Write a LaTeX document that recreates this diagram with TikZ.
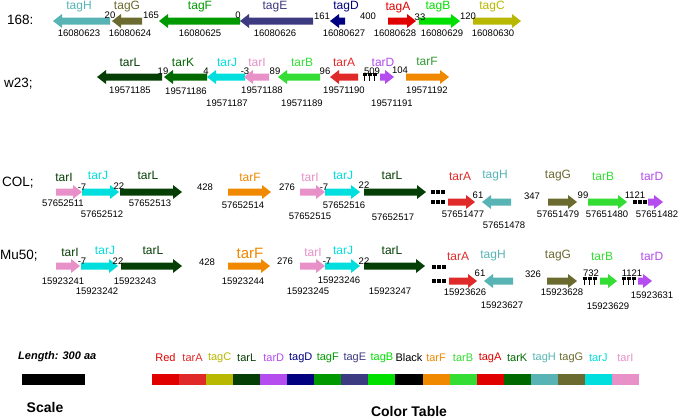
\documentclass[tikz,border=0pt]{standalone}
\usepackage{fontspec}
\setmainfont{Liberation Sans}
\usetikzlibrary{positioning}

\definecolor{redc}{HTML}{E00000}
\definecolor{tagA}{HTML}{E00000}
\definecolor{tagB}{HTML}{00E000}
\definecolor{tagC}{HTML}{B8B800}
\definecolor{tagD}{HTML}{000080}
\definecolor{tagE}{HTML}{3C3A80}
\definecolor{tagF}{HTML}{009A00}
\definecolor{tagG}{HTML}{6B6B30}
\definecolor{tagH}{HTML}{58B4B4}
\definecolor{tarA}{HTML}{E02A2A}
\definecolor{tarB}{HTML}{33DD33}
\definecolor{tarD}{HTML}{B44CF0}
\definecolor{tarF}{HTML}{F08800}
\definecolor{tarI}{HTML}{E890C8}
\definecolor{tarJ}{HTML}{00DEDE}
\definecolor{tarK}{HTML}{006A00}
\definecolor{tarL}{HTML}{063F06}
\definecolor{tarFg}{HTML}{339933}

% gene arrow: tail x, tip x, y, colour, name, name pos, number, number pos
\newcommand{\gene}[8]{%
  \pgfmathsetmacro\hx{#2-((#2>#1)?9:-9)}
  \fill[#4] ({#1},{#3-3.5}) -- (\hx,{#3-3.5}) -- (\hx,{#3-7}) -- ({#2},{#3})
    -- (\hx,{#3+7}) -- (\hx,{#3+3.5}) -- ({#1},{#3+3.5}) -- cycle;
  \node[gname, text=#4] (lbl-#7) at (#6) {#5};
  \node[gnum] (num-#7) at (#8) {#7};}
% break marks
\newcommand{\brksq}[2]{\foreach \k in {0,1,2}
  \fill ({#1+\k*5},{#2-2}) rectangle ({#1+\k*5+3.5},{#2+2});}
\newcommand{\brkrr}[2]{\foreach \k in {0,1,2} {
  \fill ({#1+\k*5},{#2-4}) rectangle ({#1+\k*5+3.5},{#2-1});
  \fill ({#1+\k*5+0.8},{#2-1}) rectangle ({#1+\k*5+2},{#2+4});}}

\begin{document}
\begin{tikzpicture}[x=1pt, y=-1pt,
  gname/.style={inner sep=0pt, font=\fontsize{12}{14}\selectfont},
  gnum/.style={inner sep=0pt, font=\fontsize{9.5}{11}\selectfont},
  gap/.style={inner sep=0pt, font=\fontsize{9.5}{11}\selectfont},
  rowlbl/.style={inner sep=0pt, anchor=west, font=\fontsize{13.5}{15}\selectfont},
  ctlbl/.style={inner sep=0pt, font=\fontsize{11}{13}\selectfont}]
\useasboundingbox[fill=white] (0,0) rectangle (685,418);

% 168
\node[rowlbl] (r168) at (7,20) {168:};
\gene{110}{53}{21}{tagH}{tagH}{79,7}{16080623}{79,33}
\gene{142}{112}{21}{tagG}{tagG}{127,7}{16080624}{130,33}
\gene{240}{159}{21}{tagF}{tagF}{200,7}{16080625}{200,33}
\gene{313}{240}{21}{tagE}{tagE}{275,7}{16080626}{275,33}
\gene{345}{330}{21}{tagD}{tagD}{346,7}{16080627}{344,33}
\gene{388}{416}{21}{tagA}{tagA}{398,8}{16080628}{395,33}
\gene{419}{460}{21}{tagB}{tagB}{438,7}{16080629}{442,33}
\gene{473}{521}{21}{tagC}{tagC}{492,7}{16080630}{493,33}
\node[gap] (g1a) at (110,15) {20};
\node[gap] (g1b) at (151,15) {165};
\node[gap] (g1c) at (238,15) {0};
\node[gap] (g1d) at (322,16) {161};
\node[gap] (g1e) at (368,16) {400};
\node[gap] (g1f) at (420,17) {33};
\node[gap] (g1g) at (468,16) {120};

% w23
\node[rowlbl] (rw23) at (4,84) {w23;};
\gene{162}{97}{77}{tarL}{tarL}{130,62}{19571185}{130,90}
\gene{207}{164}{77}{tarK}{tarK}{183,62}{19571186}{186,91}
\gene{245}{207}{77}{tarJ}{tarJ}{227,62}{19571187}{227,103}
\gene{269}{244}{77}{tarI}{tarI}{257,62}{19571188}{262,90}
\gene{320}{278}{77}{tarB}{tarB}{302,62}{19571189}{302,103}
\gene{358}{330}{77}{tarA}{tarA}{344,62}{19571190}{344,90}
\brkrr{363}{77}
\gene{380}{394}{77}{tarD}{tarD}{383,62}{19571191}{392,103}
\gene{406}{449}{77}{tarF}{\textcolor{tarFg}{tarF}}{427,61}{19571192}{427,90}
\node[gap] (g2a) at (163,71) {19};
\node[gap] (g2b) at (206,71) {4};
\node[gap] (g2c) at (245,71) {-3};
\node[gap] (g2d) at (275,71) {89};
\node[gap] (g2e) at (325,71) {96};
\node[gap] (g2f) at (372,71) {509};
\node[gap] (g2g) at (400,70) {104};

% COL
\node[rowlbl] (rcol) at (2,183) {COL;};
\gene{56}{82}{192}{tarI}{\textcolor{tarL}{tarI}}{64,177}{57652511}{63,203}
\gene{82}{119}{192}{tarJ}{tarJ}{98,175}{57652512}{102,214}
\gene{120}{182}{192}{tarL}{tarL}{148,175}{57652513}{150,203}
\gene{228}{271}{192}{tarF}{tarF}{250,177}{57652514}{243,205}
\gene{300}{325}{192}{tarI}{tarI}{310,177}{57652515}{310,216}
\gene{325}{360}{192}{tarJ}{tarJ}{343,175}{57652516}{344,205}
\gene{364}{426}{192}{tarL}{tarL}{392,175}{57652517}{393,217}
\brksq{431}{192}
\brksq{431}{202}
\gene{448}{475}{202}{tarA}{tarA}{460,176}{57651477}{463,214}
\gene{511}{482}{202}{tagH}{tagH}{495,176}{57651478}{504,225}
\gene{548}{577}{202}{tagG}{tagG}{558,176}{57651479}{558,214}
\gene{588}{627}{202}{tarB}{tarB}{603,176}{57651480}{607,214}
\brksq{633}{202}
\gene{648}{663}{202}{tarD}{tarD}{652,176}{57651482}{657,214}
\node[gap] (g3a) at (82,187) {-7};
\node[gap] (g3b) at (119,186) {22};
\node[gap] (g3c) at (205,187) {428};
\node[gap] (g3d) at (287,187) {276};
\node[gap] (g3e) at (324,187) {-7};
\node[gap] (g3f) at (364,185) {22};
\node[gap] (g3g) at (478,195) {61};
\node[gap] (g3h) at (532,196) {347};
\node[gap] (g3i) at (583,195) {99};
\node[gap] (g3j) at (635,195) {1121};

% Mu50
\node[rowlbl] (rmu) at (0,256) {Mu50;};
\gene{56}{80}{266}{tarI}{\textcolor{tarL}{tarI}}{70,252}{15923241}{63,281}
\gene{81}{118}{266}{tarJ}{tarJ}{105,250}{15923242}{97,291}
\gene{121}{182}{266}{tarL}{tarL}{153,250}{15923243}{135,281}
\gene{228}{270}{266}{tarF}{\fontsize{15}{17}\selectfont tarF}{250,253}{15923244}{243,281}
\gene{300}{325}{266}{tarI}{tarI}{313,252}{15923245}{308,291}
\gene{325}{360}{266}{tarJ}{tarJ}{343,250}{15923246}{339,280}
\gene{364}{425}{266}{tarL}{tarL}{392,250}{15923247}{390,291}
\brksq{432}{267}
\brksq{432}{281}
\gene{449}{477}{281}{tarA}{tarA}{458,256}{15923626}{465,292}
\gene{513}{484}{281}{tagH}{tagH}{493,256}{15923627}{502,305}
\gene{547}{577}{281}{tagG}{tagG}{558,256}{15923628}{562,292}
\brkrr{583}{281}
\gene{600}{617}{281}{tarB}{tarB}{602,256}{15923629}{608,306}
\brkrr{622}{281}
\gene{638}{652}{281}{tarD}{tarD}{652,256}{15923631}{652,295}
\node[gap] (g4a) at (82,261) {-7};
\node[gap] (g4b) at (118,261) {22};
\node[gap] (g4c) at (207,262) {428};
\node[gap] (g4d) at (285,261) {276};
\node[gap] (g4e) at (327,261) {-7};
\node[gap] (g4f) at (364,261) {22};
\node[gap] (g4g) at (480,273) {61};
\node[gap] (g4h) at (533,274) {326};
\node[gap] (g4i) at (591,273) {732};
\node[gap] (g4j) at (632,273) {1121};

% scale and colour table
\node[inner sep=0pt, anchor=west, font=\fontsize{11}{13}\selectfont\bfseries\itshape] (len) at (18,357) {Length: 300 aa};
\fill (22,374) rectangle (85,385);
\node[inner sep=0pt, font=\fontsize{14}{16}\selectfont\bfseries] (scl) at (45,407) {Scale};
\foreach \nm/\col [count=\i from 0] in {Red/redc, tarA/tarA, tagC/tagC, tarL/tarL,
  tarD/tarD, tagD/tagD, tagF/tagF, tagE/tagE, tagB/tagB, Black/black, tarF/tarF,
  tarB/tarB, tagA/tagA, tarK/tarK, tagH/tagH, tagG/tagG, tarJ/tarJ, tarI/tarI} {
  \fill[\col] ({152+\i*27.05},374) rectangle ({152+(\i+1)*27.05},385);
  \node[ctlbl, text=\col] (ct\i) at ({152+(\i+0.5)*27.05},358) {\nm};
}
\node[inner sep=0pt, font=\fontsize{14}{16}\selectfont\bfseries] (ctab) at (409,411) {Color Table};
\end{tikzpicture}
\end{document}
